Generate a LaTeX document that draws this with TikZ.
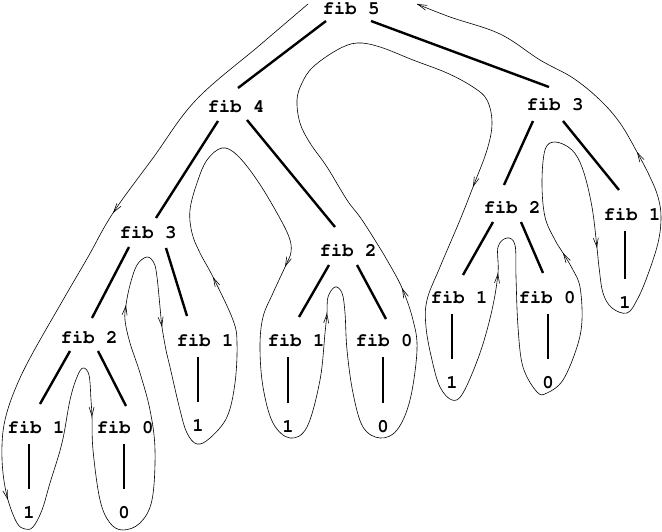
\documentclass[tikz,border=0pt]{standalone}
\usepackage[T1]{fontenc}
\usepackage{courier}
\usetikzlibrary{positioning,calc,arrows.meta}

\begin{document}
\begin{tikzpicture}[x=1pt,y=-1pt,node distance=90pt,on grid,
		fib/.style={font=\ttfamily\bfseries\fontsize{19}{19}\selectfont,inner sep=0pt},
		branch/.style={line width=2.4pt},
		tour/.style={line width=0.6pt},
		tourtip/.style={line width=0.6pt,-{Straight Barb[length=9pt,width=5pt]}}]
		\useasboundingbox (0,0) rectangle (662,532);
		% the call tree
		\node[fib](f5) at (351,8) {fib 5};
		\node[fib](f4)[below left=98pt and 115pt of f5] {fib 4};
		\node[fib](f3r)[below right=96pt and 204pt of f5] {fib 3};
		\node[fib](f3l)[below left=126pt and 88pt of f4] {fib 3};
		\node[fib](f2m)[below right=144pt and 112pt of f4] {fib 2};
		\node[fib](f2r)[below left=103pt and 43pt of f3r] {fib 2};
		\node[fib](f1rr)[below right=110pt and 77pt of f3r] {fib 1};
		\node[fib](f2l)[below left=105pt and 59pt of f3l] {fib 2};
		\node[fib](f1lm)[below right=108pt and 57pt of f3l] {fib 1};
		\node[fib](f1ll)[below left=90pt and 53pt of f2l] {fib 1};
		\node[fib](f0l)[below right=90pt and 36pt of f2l] {fib 0};
		\node[fib](f1m)[below left=90pt and 52pt of f2m] {fib 1};
		\node[fib](f0m)[below right=90pt and 36pt of f2m] {fib 0};
		\node[fib](f1r)[below left=90pt and 53pt of f2r] {fib 1};
		\node[fib](f0r)[below right=90pt and 35pt of f2r] {fib 0};
		% the values
		\node[fib](n1ll)[below left=86pt and 7pt of f1ll] {1};
		\node[fib](n0l)[below left=86pt and 1pt of f0l] {0};
		\node[fib](n1lm)[below left=86pt and 7pt of f1lm] {1};
		\node[fib](n1m)[below left=87pt and 8pt of f1m] {1};
		\node[fib](n0m)[below left=87pt and 1pt of f0m] {0};
		\node[fib](n1r)[below left=86pt and 7pt of f1r] {1};
		\node[fib](n0r)[below right=86pt and 1pt of f0r] {0};
		\node[fib](n1rr)[below left=89pt and 7pt of f1rr] {1};
		\draw[branch] ($(f5)+(-25,13)$) -- ($(f4)+(2,-18)$);
		\draw[branch] ($(f5)+(20,13)$) -- ($(f3r)+(-6,-17)$);
		\draw[branch] ($(f4)+(-18,15)$) -- ($(f3l)+(8,-14)$);
		\draw[branch] ($(f4)+(11,14)$) -- ($(f2m)+(-13,-23)$);
		\draw[branch] ($(f3r)+(-22,17)$) -- ($(f2r)+(-8,-22)$);
		\draw[branch] ($(f3r)+(8,17)$) -- ($(f1rr)+(-13,-24)$);
		\draw[branch] ($(f3l)+(-19,15)$) -- ($(f2l)+(3,-19)$);
		\draw[branch] ($(f3l)+(18,16)$) -- ($(f1lm)+(-18,-24)$);
		\draw[branch] ($(f2l)+(-19,14)$) -- ($(f1ll)+(4,-23)$);
		\draw[branch] ($(f2l)+(9,14)$) -- ($(f0l)+(1,-21)$);
		\draw[branch] ($(f2m)+(-19,15)$) -- ($(f1m)+(3,-23)$);
		\draw[branch] ($(f2m)+(9,15)$) -- ($(f0m)+(2,-21)$);
		\draw[branch] ($(f2r)+(-19,15)$) -- ($(f1r)+(4,-22)$);
		\draw[branch] ($(f2r)+(9,15)$) -- ($(f0r)+(-4,-24)$);
		\foreach \n/\f in {n1ll/f1ll,n0l/f0l,n1lm/f1lm,n1m/f1m,n0m/f0m,n1r/f1r,n0r/f0r,n1rr/f1rr}
			\draw[branch] ($(\n)+(0,-24)$) -- ($(\n |- \f)+(0,17)$);
		% the process
		\draw[tour] plot[smooth,tension=0.6] coordinates {
			(308,4) (260,45) (196,100) (153,158) (113,213) (88,257) (63,300) (30,358)
			(14,392) (5,420) (2,445) (3,473) (8,500) (17,523) (25,529) (33,527) (42,510)
			(50,483) (62,443) (70,400) (77,377) (83,368) (89,375) (91,400) (92,417)
			(93,450) (100,500) (110,523) (123,530) (140,523) (152,500) (155,450) (150,410)
			(140,373) (130,343) (125,320) (126,305) (130,285) (137,265) (147,257) (154,263)
			(157,277) (160,307) (162,327) (166,350) (170,367) (180,410) (187,433) (197,444)
			(210,438) (227,417) (235,383) (237,343) (233,320) (213,277) (200,253) (192,233)
			(190,210) (197,183) (207,160) (222,148) (237,155) (257,180) (277,213) (289,237)
			(291,252) (285,267) (273,293) (263,317) (260,347) (263,387) (273,423) (290,438)
			(307,427) (320,380) (325,333) (327,313) (328,297) (335,287) (342,293) (345,313)
			(347,350) (353,393) (363,427) (380,438) (397,430) (410,400) (417,350) (413,320)
			(402,288) (387,260) (373,237) (360,217) (347,200) (327,167) (310,143) (300,123)
			(297,100) (302,83) (313,67) (337,50) (357,43) (380,47) (413,60) (447,73)
			(473,87) (487,100) (492,123) (487,150) (473,187) (460,220) (440,267) (427,300)
			(426,327) (432,360) (440,387) (452,400) (463,393) (480,353) (492,310) (498,273)
			(498,247) (507,238) (515,245) (516,277) (518,327) (523,367) (537,392) (547,393)
			(563,380) (577,347) (582,320) (580,287) (573,270) (563,253) (555,240) (545,217)
			(542,183) (545,150) (555,142) (572,150) (583,170) (592,207) (597,248) (599,267)
			(603,293) (612,308) (627,313) (637,300) (647,277) (658,243) (661,217) (658,197)
			(650,177) (637,152) (620,123) (600,100) (573,78) (540,60) (500,34) (450,17)
			(417,4)};
		\foreach \x/\y/\u/\v in {113/213/-0.59/0.81, 8/500/0.27/0.96, 92/417/0.04/1,
				126/305/0.14/-0.99, 162/327/0.14/0.99, 213/277/-0.44/-0.9, 285/267/-0.4/0.92,
				327/313/0.08/-1, 402/288/-0.4/-0.92, 473/187/-0.36/0.93, 498/273/0.1/-1,
				563/253/-0.51/-0.86, 597/248/0.12/0.99, 637/152/-0.49/-0.87, 417/4/-0.93/-0.37}
			\draw[tourtip] ({\x-(\u)},{\y-(\v)}) -- (\x,\y);
\end{tikzpicture}
\end{document}
